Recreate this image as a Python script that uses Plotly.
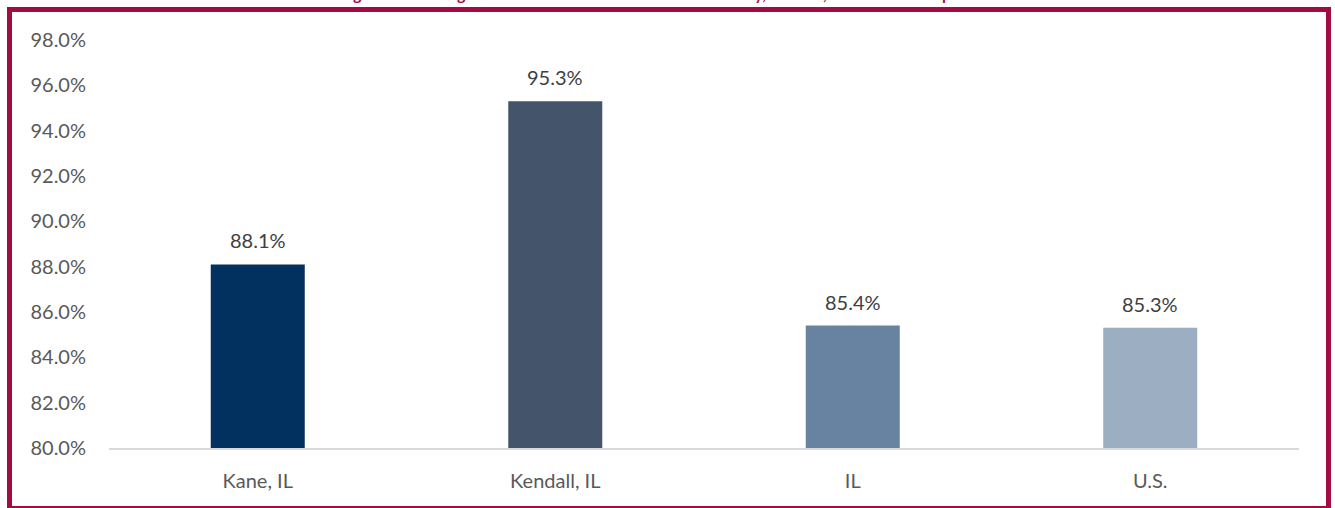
import plotly.graph_objects as go

# Share of adults with at least a high school education
categories = ["Kane, IL", "Kendall, IL", "IL", "U.S."]
values = [88.1, 95.3, 85.4, 85.3]
bar_colors = ["#03315F", "#44546A", "#6783A1", "#9BAEC2"]
y_ticks = [80, 82, 84, 86, 88, 90, 92, 94, 96, 98]

title_text = ("Percent of Adults Age 25+ with High School Education or More: "
              "Kane County, Kendall, IL and U.S. Comparison")

W, H = 1335, 508
ML, MR, MT, MB = 109, 36, 40, 60
PW, PH = W - ML - MR, H - MT - MB
BORDER = "#A30B43"
FONT = "Lato"


def px_x(p):
    return (p - ML) / PW


def px_y(p):
    return (H - MB - p) / PH


fig = go.Figure(
    go.Bar(
        x=categories,
        y=values,
        marker=dict(color=bar_colors, line=dict(width=0)),
        width=0.316,
        hoverinfo="skip",
    )
)

# value labels above each bar
for cat, val in zip(categories, values):
    fig.add_annotation(
        x=cat, y=val, text=f"{val:.1f}%", showarrow=False,
        yanchor="bottom", yshift=10,
        font=dict(family=FONT, size=20, color="#404040"),
    )

# heading, mostly above the top edge of the page
fig.add_annotation(
    xref="paper", yref="paper", x=px_x(605), y=px_y(5),
    xanchor="center", yanchor="bottom", showarrow=False,
    text=f"<b>{title_text}</b>",
    font=dict(family=FONT, size=16, color=BORDER),
)

# frame around the chart
fig.add_shape(
    type="rect", xref="paper", yref="paper",
    x0=px_x(9.5), x1=px_x(1328.5), y0=px_y(508.5), y1=px_y(9.5),
    line=dict(color=BORDER, width=5), fillcolor="rgba(0,0,0,0)", layer="above",
)

fig.update_layout(
    width=W, height=H,
    margin=dict(l=ML, r=MR, t=MT, b=MB, pad=0),
    paper_bgcolor="white", plot_bgcolor="white",
    showlegend=False,
    font=dict(family=FONT, size=20, color="#595959"),
    xaxis=dict(
        showgrid=False, zeroline=False,
        showline=True, linecolor="#D9D9D9", linewidth=2,
        ticks="", ticklabelstandoff=14,
        tickfont=dict(family=FONT, size=20, color="#595959"),
    ),
    yaxis=dict(
        range=[80, 98], tickvals=y_ticks,
        ticktext=[f"{v:.1f}%" for v in y_ticks],
        showgrid=False, zeroline=False, showline=False,
        ticks="", ticklabelstandoff=22,
        tickfont=dict(family=FONT, size=20, color="#595959"),
    ),
)

fig.write_html("out.html")
